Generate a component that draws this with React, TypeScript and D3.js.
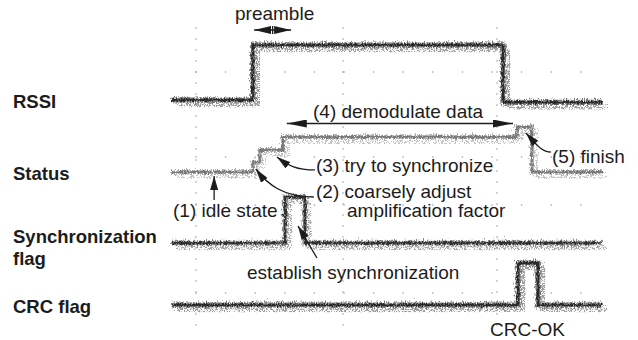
import * as d3 from "d3";

// time axis in arbitrary units (0..100 across the screen)
const rssiTimes = [0, 18.8, 77.0, 100];
const rssiLevels = [0, 1, -0.04, -0.04];
const statusTimes = [0, 18.8, 20.5, 25.8, 80.2, 83.7, 100];
const statusLevels = [0, 0.22, 0.49, 0.78, 1, 0, 0];
const syncTimes = [0, 26.3, 30.9, 100];
const syncLevels = [0, 1, 0, 0];
const crcTimes = [0, 80.5, 85.1, 100];
const crcLevels = [0, 1, 0, 0];

const channelNames = ["RSSI", "Status", "Synchronization\nflag", "CRC flag"];

const W = 638;
const H = 340;
const FONT = "'Liberation Sans', Arial, Helvetica, sans-serif";
const INK = "#1c1c1c";

// vertical placement of each channel: baseline and full-scale pixel
const bands = [
  { base: 100, top: 45, labelY: 108, outer: "#7a7a7a", inner: "#2a2a2a", ow: 5, iw: 2.6 },
  { base: 172, top: 127, labelY: 180, outer: "#b0b0b0", inner: "#7a7a7a", ow: 4, iw: 2 },
  { base: 243, top: 197, labelY: 243, outer: "#8a8a8a", inner: "#333", ow: 4.6, iw: 2.4 },
  { base: 305, top: 263, labelY: 313, outer: "#7a7a7a", inner: "#2c2c2c", ow: 5, iw: 2.6 },
];

const series = [
  { t: rssiTimes, v: rssiLevels },
  { t: statusTimes, v: statusLevels },
  { t: syncTimes, v: syncLevels },
  { t: crcTimes, v: crcLevels },
];

const x = d3.scaleLinear().domain([0, 100]).range([172, 602]);
const ys = bands.map((b) => d3.scaleLinear().domain([0, 1]).range([b.base, b.top]));

// faint scope graticule
const gridRows = [72, 157, 205, 293];
const gridCols = [196, 343, 497];
const rowDots = d3.range(196, 602, 29.6);
const colDots = d3.range(28, 335, 11);

export default function App() {
  const [, yS, ySy] = ys;

  const line = (k: number) =>
    d3
      .line<number>()
      .x((_, i) => x(series[k].t[i]))
      .y((d) => ys[k](d))
      .curve(d3.curveStepAfter)(series[k].v) ?? "";

  // annotation arrow tips, anchored on the traces
  const t1 = [x(9.8), yS(0) + 4];
  const t2 = [x(19.5), yS(0) - 3];
  const t3 = [x(24.4), yS(0.49) + 7];
  const t5 = [x(82.3), yS(1) + 6];
  const tE = [x(29.3), ySy(0) - 17];
  const pre = [x(19.1), x(27.7)];
  const dem = [x(26.7), x(79.3)];

  const arrows = [
    `M${t1[0]},${t1[1] + 24} L${t1[0]},${t1[1]}`,
    `M${t2[0] + 58},${t2[1] + 28} C${t2[0] + 28},${t2[1] + 28} ${t2[0] + 12},${t2[1] + 16} ${t2[0]},${t2[1]}`,
    `M${t3[0] + 38},${t3[1] + 13} C${t3[0] + 20},${t3[1] + 13} ${t3[0] + 12},${t3[1] + 9} ${t3[0]},${t3[1]}`,
    `M${t5[0] + 25},${t5[1] + 19} C${t5[0] + 16},${t5[1] + 19} ${t5[0] + 11},${t5[1] + 12} ${t5[0]},${t5[1]}`,
    `M${tE[0] + 19},${tE[1] + 32} L${tE[0]},${tE[1]}`,
  ];

  const texts = [
    { s: "preamble", x: 235, y: 20 },
    { s: "(4) demodulate data", x: 313, y: 118 },
    { s: "(3) try to synchronize", x: 316, y: 172 },
    { s: "(2) coarsely adjust", x: 316, y: 198 },
    { s: "amplification factor", x: 347, y: 217 },
    { s: "(1) idle state", x: 173, y: 217 },
    { s: "establish synchronization", x: 247, y: 279 },
    { s: "(5) finish", x: 552, y: 163 },
    { s: "CRC-OK", x: 490, y: 336 },
  ];

  return (
    <svg
      width={W}
      height={H}
      style={{ position: "absolute", left: 0, top: 0, background: "#fff" }}
    >
      <defs>
        <filter id="jA" filterUnits="userSpaceOnUse" x="0" y="0" width={W} height={H}>
          <feTurbulence type="fractalNoise" baseFrequency="1.1 0.35" numOctaves="2" seed="4" result="n" />
          <feDisplacementMap in="SourceGraphic" in2="n" scale="8" xChannelSelector="G" yChannelSelector="R" />
        </filter>
        <filter id="jB" filterUnits="userSpaceOnUse" x="0" y="0" width={W} height={H}>
          <feTurbulence type="fractalNoise" baseFrequency="0.8 0.3" numOctaves="2" seed="11" result="n" />
          <feDisplacementMap in="SourceGraphic" in2="n" scale="5" xChannelSelector="G" yChannelSelector="R" />
        </filter>
        <filter id="jC" filterUnits="userSpaceOnUse" x="0" y="0" width={W} height={H}>
          <feTurbulence type="turbulence" baseFrequency="0.6 0.5" numOctaves="1" seed="23" result="n" />
          <feDisplacementMap in="SourceGraphic" in2="n" scale="12" xChannelSelector="B" yChannelSelector="R" />
        </filter>
        <marker id="ah" viewBox="0 0 14 8" refX="14" refY="4" markerWidth="14" markerHeight="8"
          markerUnits="userSpaceOnUse" orient="auto-start-reverse">
          <path d="M0,0 L14,4 L0,8 Z" fill={INK} />
        </marker>
        <marker id="ahL" viewBox="0 0 20 8" refX="20" refY="4" markerWidth="20" markerHeight="8"
          markerUnits="userSpaceOnUse" orient="auto-start-reverse">
          <path d="M0,0 L20,4 L0,8 Z" fill={INK} />
        </marker>
        <marker id="ahP" viewBox="0 0 17 8" refX="17" refY="4" markerWidth="17" markerHeight="8"
          markerUnits="userSpaceOnUse" orient="auto-start-reverse">
          <path d="M0,0 L17,4 L0,8 Z" fill={INK} />
        </marker>
      </defs>

      {/* graticule */}
      <g fill="#a8a8a8">
        {gridRows.map((gy) =>
          rowDots.map((gx) => <rect key={`r${gy}-${gx}`} x={gx - 0.7} y={gy - 0.7} width={1.4} height={1.4} />)
        )}
        {gridCols.map((gx) =>
          colDots.map((gy) => <rect key={`c${gx}-${gy}`} x={gx - 0.7} y={gy - 0.7} width={1.4} height={1.4} />)
        )}
      </g>

      {/* traces: three jittered layers give the noisy scope look */}
      {series.map((_, k) => (
        <g key={k} fill="none" strokeLinejoin="miter">
          <path d={line(k)} stroke={bands[k].outer} strokeWidth={bands[k].iw} opacity={0.7} filter="url(#jC)" />
          <path d={line(k)} stroke={bands[k].outer} strokeWidth={bands[k].ow} filter="url(#jA)" />
          <path d={line(k)} stroke={bands[k].inner} strokeWidth={bands[k].iw} filter="url(#jB)" />
        </g>
      ))}

      {/* channel labels */}
      {channelNames.map((name, k) => (
        <text key={name} x={13} y={bands[k].labelY} fontFamily={FONT} fontWeight="bold" fontSize={18.5} fill={INK}>
          {name.split("\n").map((ln, i) => (
            <tspan key={i} x={13} dy={i === 0 ? 0 : 22}>
              {ln}
            </tspan>
          ))}
        </text>
      ))}

      {/* annotation arrows */}
      <g fill="none" stroke={INK} strokeWidth={1.3}>
        {arrows.map((d, i) => (
          <path key={i} d={d} markerEnd="url(#ah)" />
        ))}
        <line x1={pre[0]} x2={pre[1]} y1={30} y2={30} markerStart="url(#ahP)" markerEnd="url(#ahP)" />
        <line x1={(pre[0] + pre[1]) / 2} x2={(pre[0] + pre[1]) / 2} y1={26} y2={34} />
        <line x1={dem[0]} x2={dem[1]} y1={123.5} y2={123.5} markerStart="url(#ahL)" markerEnd="url(#ahL)" />
      </g>

      {texts.map((t) => (
        <text key={t.s} x={t.x} y={t.y} fontFamily={FONT} fontSize={19} fill={INK}>
          {t.s}
        </text>
      ))}
    </svg>
  );
}
